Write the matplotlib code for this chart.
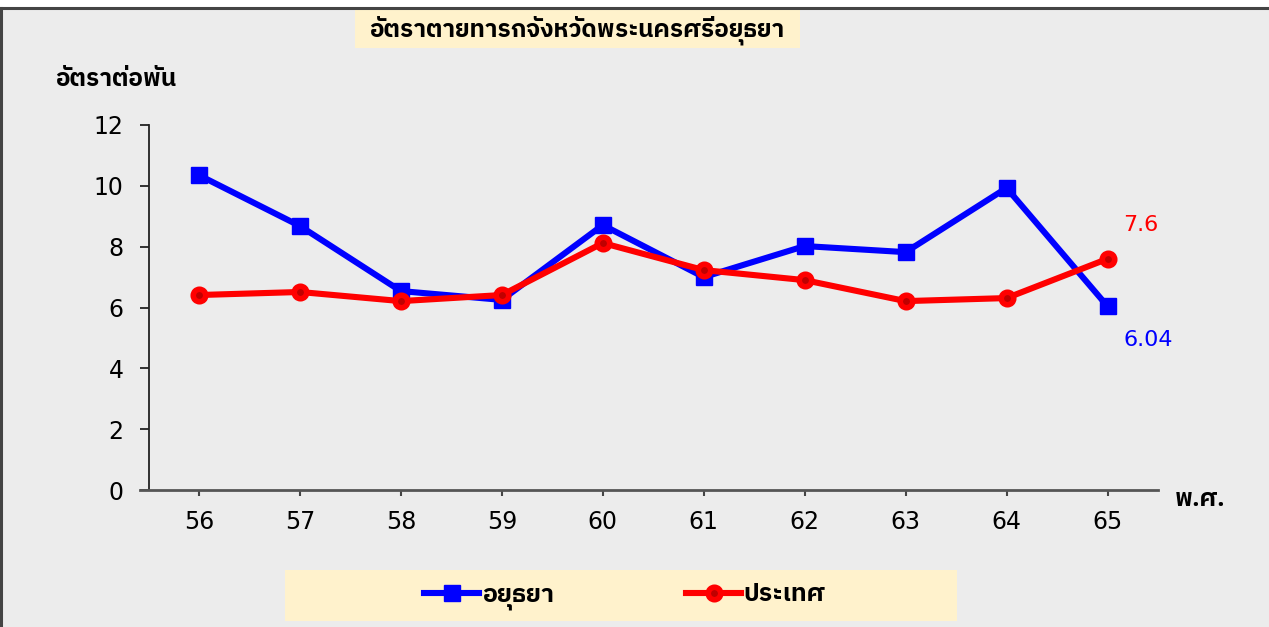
import matplotlib
matplotlib.use("Agg")
import matplotlib.pyplot as plt
from matplotlib import font_manager
from matplotlib.ft2font import FT2Font
from matplotlib.lines import Line2D
from matplotlib.patches import Rectangle

# ---- data ----
years = ["56", "57", "58", "59", "60", "61", "62", "63", "64", "65"]
ayutthaya = [10.35, 8.68, 6.54, 6.25, 8.71, 7.0, 8.02, 7.82, 9.93, 6.04]
thailand = [6.41, 6.51, 6.21, 6.41, 8.12, 7.23, 6.9, 6.21, 6.31, 7.6]
yticks = [0, 2, 4, 6, 8, 10, 12]
title = "อัตราตายทารกจังหวัดพระนครศรีอยุธยา"
ylabel = "อัตราต่อพัน"
xlabel = "พ.ศ."
series_names = ["อยุธยา", "ประเทศ"]

# ---- find a font with Thai glyphs (one whose marks sit well unshaped) ----
thai_family = None
for fe in font_manager.fontManager.ttflist:
    if "DejaVu" in fe.name:
        continue
    try:
        cm = FT2Font(fe.fname).get_charmap()
        if 0x0E2D in cm and 0x0E31 in cm:
            thai_family = fe.name
            if "Thai" in fe.name:
                break
    except Exception:
        pass
plt.rcParams["font.family"] = ["DejaVu Sans"]
thai_fams = ([thai_family] if thai_family else []) + ["DejaVu Sans"]

W, H = 1269, 627
fig = plt.figure(figsize=(W / 100, H / 100), dpi=100)
fig.patch.set_facecolor("white")
bg = "#ececec"
fig.patches.append(Rectangle((0, 0), 1, 1 - 8 / H, transform=fig.transFigure,
                             facecolor=bg, edgecolor="none", zorder=-10))
fig.lines.append(Line2D([0, 1], [1 - 8 / H, 1 - 8 / H], transform=fig.transFigure,
                        color="#444444", lw=2.2))
fig.lines.append(Line2D([0.5 / W, 0.5 / W], [0, 1 - 8 / H], transform=fig.transFigure,
                        color="#444444", lw=2.2))

ax_l, ax_r = 148.5 / W, 1158 / W
ax_b, ax_t = 1 - 490 / H, 1 - 125 / H
ax = fig.add_axes([ax_l, ax_b, ax_r - ax_l, ax_t - ax_b])
ax.set_facecolor("none")

blue_style = dict(color="#0000ff", lw=4.4, marker="s", ms=11, mfc="#0000ff", mec="#0000ff")
red_style = dict(color="#ff0000", lw=4.4, marker="o", ms=9, mfc="#c00000", mec="#ff0000", mew=4)

x = list(range(len(years)))
ax.plot(x, ayutthaya, zorder=3, solid_joinstyle="round", **blue_style)
ax.plot(x, thailand, zorder=4, solid_joinstyle="round", **red_style)

ax.set_xlim(-0.5, len(years) - 0.5)
ax.set_ylim(0, 12)
ax.set_yticks(yticks)
ax.set_yticklabels([str(v) for v in yticks])
ax.set_xticks(x)
ax.set_xticklabels(years)
for s in ["top", "right"]:
    ax.spines[s].set_visible(False)
ax.spines["left"].set_color("#222222")
ax.spines["bottom"].set_color("#555555")
ax.spines["left"].set_linewidth(1.3)
ax.spines["bottom"].set_linewidth(2)
ax.spines["bottom"].set_bounds(-0.58, len(years) - 0.5)
ax.tick_params(axis="y", length=6.5, width=1.3, labelsize=17, pad=11.5, color="#222222")
ax.tick_params(axis="x", length=4.3, width=1.5, labelsize=17, pad=10, color="#444444")

# data labels
ax.annotate(f"{thailand[-1]}", (x[-1], thailand[-1]), xytext=(16, 34),
            textcoords="offset pixels", color="#ff0000", fontsize=16,
            ha="left", va="center")
ax.annotate(f"{ayutthaya[-1]}", (x[-1], ayutthaya[-1]), xytext=(16, -34),
            textcoords="offset pixels", color="#0000ff", fontsize=16,
            ha="left", va="center")

# title box
fig.patches.append(Rectangle((355 / W, 1 - 48 / H), (800 - 355) / W, 38 / H,
                             transform=fig.transFigure, facecolor="#fff2cc",
                             edgecolor="none", zorder=1))
fig.text(577 / W, 1 - 30 / H, title, fontsize=17.5, fontweight="bold", ha="center",
         va="center", zorder=2, family=thai_fams)
fig.text(55 / W, 1 - 80 / H, ylabel, fontsize=17.5, fontweight="bold", ha="left",
         va="center", family=thai_fams)
fig.text(1175 / W, 1 - 500 / H, xlabel, fontsize=17.5, fontweight="bold", ha="left",
         va="center", family=thai_fams)

# legend box
fig.patches.append(Rectangle((285 / W, 1 - 621 / H), (957 - 285) / W, 51 / H,
                             transform=fig.transFigure, facecolor="#fff2cc",
                             edgecolor="none", zorder=1))
handles = [Line2D([], [], **blue_style), Line2D([], [], **red_style)]
leg = fig.legend(handles, series_names, loc="center", bbox_to_anchor=(625 / W, 1 - 596 / H),
                 ncol=2, frameon=False, handlelength=2.2, handletextpad=0.1,
                 columnspacing=5.3, borderpad=0, borderaxespad=0,
                 prop=dict(family=thai_fams, size=18, weight="bold"))

fig.savefig("out.png", dpi=100, facecolor=fig.get_facecolor())
